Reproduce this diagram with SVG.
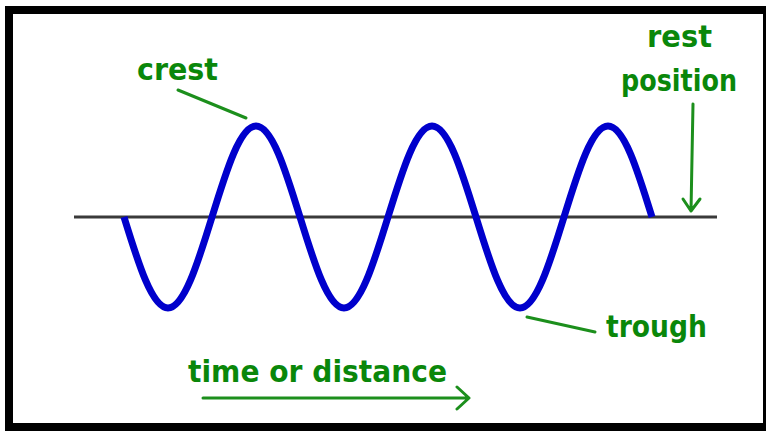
<svg xmlns="http://www.w3.org/2000/svg" width="766" height="431" viewBox="0 0 766 431">
<style>
.lbl{font-family:"DejaVu Sans","Liberation Sans",sans-serif;font-weight:bold;font-size:31px;fill:#0a870a}
.ptr{stroke:#1c8f1c;stroke-width:3;fill:none;stroke-linecap:round;stroke-linejoin:round}
</style>
<rect x="0" y="0" width="766" height="431" fill="#ffffff"/>
<rect x="5" y="6" width="761" height="425" fill="#000000"/>
<rect x="13" y="14" width="750" height="409" fill="#ffffff"/>
<g id="rest-line">
<line x1="74" y1="217" x2="717" y2="217" stroke="#3a3a3a" stroke-width="3"/>
</g>
<g id="wave">
<path d="M124,217 c14.35,46.6 28.08,91 44,91 c15.92,0 29.65,-44.4 44,-91 c14.35,-46.6 28.08,-91 44,-91 c15.92,0 29.65,44.4 44,91 c14.35,46.6 28.08,91 44,91 c15.92,0 29.65,-44.4 44,-91 c14.35,-46.6 28.08,-91 44,-91 c15.92,0 29.65,44.4 44,91 c14.35,46.6 28.08,91 44,91 c15.92,0 29.65,-44.4 44,-91 c14.35,-46.6 28.08,-91 44,-91 c15.92,0 29.65,44.4 44,91" fill="none" stroke="#0000cc" stroke-width="7" stroke-linejoin="round"/>
</g>
<g id="connectors">
<line class="ptr" x1="178" y1="90" x2="246" y2="118"/>
<line class="ptr" x1="527" y1="317" x2="595" y2="332"/>
<path class="ptr" d="M693,104 L691,211 M683,199 L691,211 L700,199"/>
<path class="ptr" d="M203,398 L468,398 M457,387 L469,398 L457,409"/>
</g>
<g id="label-crest"><text class="lbl" x="137" y="80" textLength="81" lengthAdjust="spacingAndGlyphs">crest</text></g>
<g id="label-rest"><text class="lbl" x="647" y="47" textLength="65" lengthAdjust="spacingAndGlyphs">rest</text></g>
<g id="label-position"><text class="lbl" x="621" y="91" textLength="116" lengthAdjust="spacingAndGlyphs">position</text></g>
<g id="label-trough"><text class="lbl" x="606" y="337" textLength="101" lengthAdjust="spacingAndGlyphs">trough</text></g>
<g id="label-time"><text class="lbl" x="188" y="382" textLength="259" lengthAdjust="spacingAndGlyphs">time or distance</text></g>
</svg>
